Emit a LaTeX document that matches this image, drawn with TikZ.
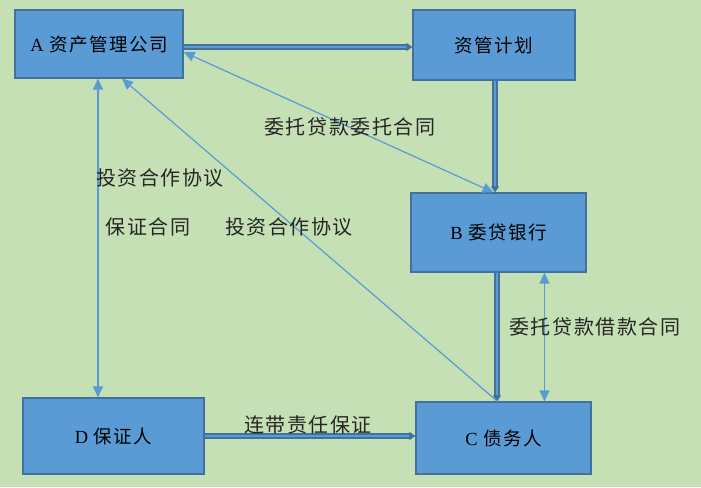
\documentclass[tikz,border=0pt]{standalone}
\usepackage{fontspec}
\setmainfont{Liberation Serif}
\newfontfamily\cjk{Noto Sans CJK SC}[LetterSpace=8]
\usetikzlibrary{arrows.meta,calc}
\definecolor{bg}{HTML}{C5E0B4}
\definecolor{boxfill}{HTML}{5B9BD5}
\definecolor{boxline}{HTML}{41719C}
\definecolor{thin}{HTML}{5B9BD5}
\tikzset{
  >={Triangle[width=10pt,length=11pt]},
  box/.style={draw=boxline, line width=1.2pt, fill=boxfill, inner sep=0pt, font=\fontsize{18.5}{22}\selectfont\cjk},
  thickarrow/.style={draw=boxline, line width=1.3pt, double=boxfill, double distance=2.5pt, -{Triangle[width=8pt,length=6pt]}},
  thinarrow/.style={draw=thin, line width=1.2pt},
  lbl/.style={font=\fontsize{20}{24}\selectfont\cjk, text=black!85, inner sep=0pt}
}
\begin{document}
\begin{tikzpicture}[x=1pt,y=-1pt]
\fill[bg] (0,0) rectangle (701,487);
\useasboundingbox (0,0) rectangle (701,487);
\node[box, minimum width=168pt, minimum height=68pt] (A) at (99,44) {{\rmfamily A} 资产管理公司};
\node[box, minimum width=162pt, minimum height=70pt] (P) at (494,45) {资管计划};
\node[box, minimum width=175pt, minimum height=79pt] (B) at (498.5,232.5) {{\rmfamily B} 委贷银行};
\node[box, minimum width=181pt, minimum height=76pt] (D) at (113.5,436) {{\rmfamily D} 保证人};
\node[box, minimum width=175pt, minimum height=72pt] (C) at (503.5,438) {{\rmfamily C} 债务人};
% thick arrows
\draw[thickarrow] ([yshift=-3pt]A.east) -- ([yshift=-3pt]A.east -| P.west);
\draw[thickarrow] ([xshift=1pt]P.south) -- ([xshift=1pt]P.south |- B.north);
\draw[thickarrow] ([xshift=-1.5pt]B.south) -- ([xshift=-1.5pt]B.south |- C.north);
\draw[thickarrow] (D.east) -- (D.east -| C.west);
% thin arrows
\draw[thinarrow, <->] ([xshift=-1pt]A.south) -- ([xshift=-1pt]A.south |- D.north);
\draw[thinarrow, <-] ([xshift=23pt]A.south) -- ([xshift=-6pt]C.north);
\draw[thinarrow, <->] ([yshift=-8pt]A.east) -- ([xshift=-5pt]B.north);
\draw[thinarrow, <->] ([xshift=46pt]B.south) -- ([xshift=46pt]B.south |- C.north);
% labels
\node[lbl] (l1) at (350,127) {委托贷款委托合同};
\node[lbl] (l2) at (160,178) {投资合作协议};
\node[lbl] (l3) at (148,227) {保证合同};
\node[lbl] (l4) at (289,227) {投资合作协议};
\node[lbl] (l5) at (595,327) {委托贷款借款合同};
\node[lbl] (l6) at (308,425) {连带责任保证};
\end{tikzpicture}
\end{document}
